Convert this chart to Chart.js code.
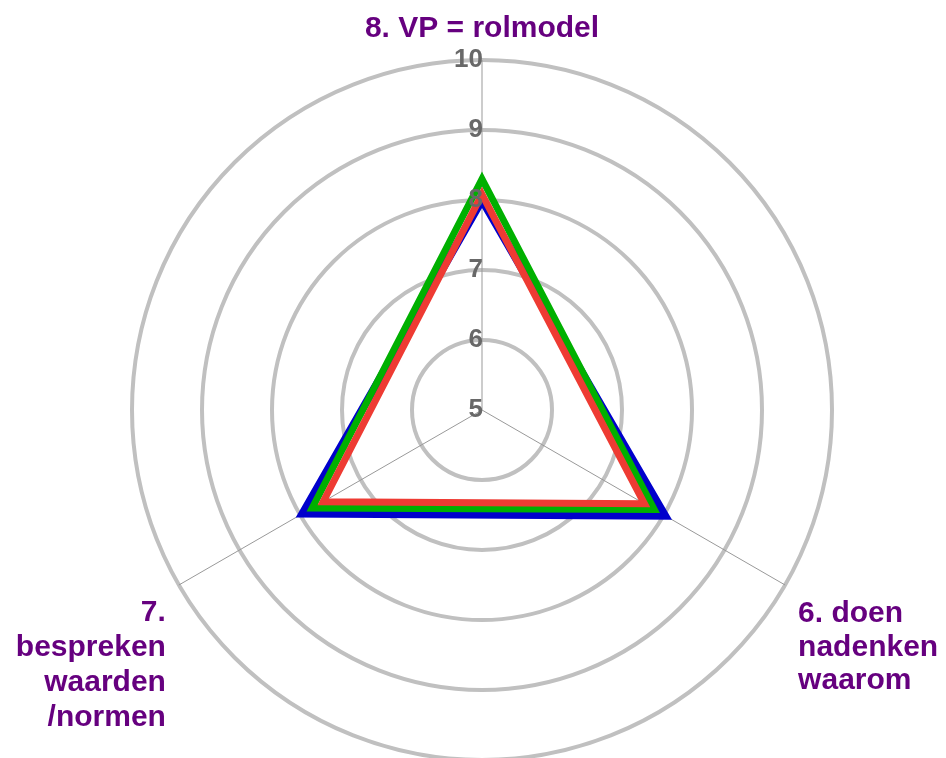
<!DOCTYPE html>
<html>
<head>
<meta charset="utf-8">
<script src="https://cdn.jsdelivr.net/npm/chart.js@4/dist/chart.umd.min.js"></script>
<style>
  html, body { margin: 0; padding: 0; background: #fff; overflow: hidden; }
  #wrap { width: 946px; height: 760px; }
</style>
</head>
<body>
<div id="wrap"><canvas id="radar" width="946" height="760"></canvas></div>
<script>
const categories = [
  ["8. VP = rolmodel"],
  ["6. doen", "nadenken", "waarom"],
  ["7.", "bespreken", "waarden", "/normen"]
];
const redValues = [8.08, 7.68, 7.62];
const greenValues = [8.3, 7.84, 7.8];
const blueValues = [8.0, 8.02, 7.96];
const tickLabels = [5, 6, 7, 8, 9, 10];

const purple = '#66007f';
const fontFamily = '"Liberation Sans", Arial, sans-serif';

// tick numbers sit just left of the vertical axis, category labels outside the rim
const labelPlugin = {
  id: 'labels',
  afterDraw(chart) {
    const ctx = chart.ctx;
    const r = chart.scales.r;
    ctx.save();

    ctx.font = 'bold 26px ' + fontFamily;
    ctx.fillStyle = '#686868';
    ctx.textAlign = 'right';
    ctx.textBaseline = 'middle';
    tickLabels.forEach(v => {
      const y = r.yCenter - r.getDistanceFromCenterForValue(v);
      ctx.fillText(String(v), r.xCenter + 1, y);
    });

    ctx.font = 'bold 30px ' + fontFamily;
    ctx.fillStyle = purple;
    ctx.textBaseline = 'alphabetic';
    const lineH = 35;
    categories.forEach((lines, i) => {
      const p = r.getPointPosition(i, r.drawingArea);
      if (i === 0) {
        ctx.textAlign = 'center';
        ctx.fillText(lines[0], p.x, p.y - 23);
      } else if (i === 1) {
        ctx.textAlign = 'left';
        lines.forEach((t, k) => ctx.fillText(t, p.x + 13, p.y + 37 + k * 33.5));
      } else {
        ctx.textAlign = 'right';
        lines.forEach((t, k) => ctx.fillText(t, p.x - 13, p.y + 36 + k * lineH));
      }
    });
    ctx.restore();
  }
};

new Chart(document.getElementById('radar'), {
  type: 'radar',
  data: {
    labels: categories,
    datasets: [
      { label: 'rood', data: redValues, borderColor: '#ee3b33', borderWidth: 7 },
      { label: 'groen', data: greenValues, borderColor: '#00b000', borderWidth: 7 },
      { label: 'blauw', data: blueValues, borderColor: '#0000cc', borderWidth: 8 }
    ]
  },
  options: {
    responsive: false,
    animation: false,
    layout: { padding: { top: 60, left: 18, right: 0, bottom: 0 } },
    elements: {
      line: { tension: 0, fill: false, borderJoinStyle: 'miter' },
      point: { radius: 0, hoverRadius: 0 }
    },
    plugins: { legend: { display: false }, tooltip: { enabled: false } },
    scales: {
      r: {
        min: 5,
        max: 10,
        ticks: { stepSize: 1, display: false },
        grid: { circular: true, color: '#c0c0c0', lineWidth: 4 },
        angleLines: { color: '#999999', lineWidth: 1 },
        pointLabels: { display: false }
      }
    }
  },
  plugins: [labelPlugin]
});
</script>
</body>
</html>
